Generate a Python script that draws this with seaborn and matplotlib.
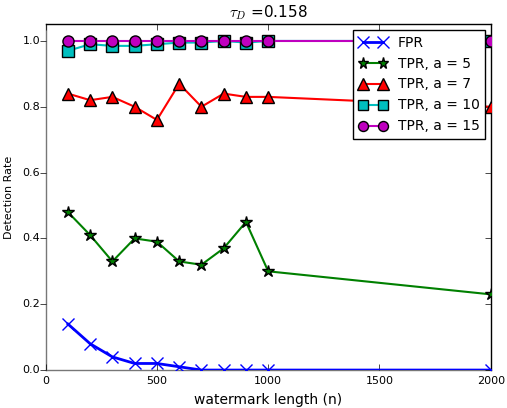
import matplotlib
matplotlib.use("Agg")
import matplotlib.pyplot as plt
import matplotlib.lines as mlines
import seaborn as sns
import pandas as pd

n = [100, 200, 300, 400, 500, 600, 700, 800, 900, 1000, 2000]
fpr = [0.14, 0.08, 0.04, 0.02, 0.02, 0.01, 0.0, 0.0, 0.0, 0.0, 0.0]
tpr5 = [0.48, 0.41, 0.33, 0.40, 0.39, 0.33, 0.32, 0.37, 0.45, 0.30, 0.23]
tpr7 = [0.84, 0.82, 0.83, 0.80, 0.76, 0.87, 0.80, 0.84, 0.83, 0.83, 0.80]
tpr10 = [0.97, 0.99, 0.985, 0.985, 0.99, 0.995, 0.995, 1.0, 0.995, 1.0, 1.0]
tpr15 = [1.0] * 11

series = [
    ("FPR", fpr, "blue", "x", 9, 2.0),
    ("TPR, a = 5", tpr5, "green", "*", 9, 1.5),
    ("TPR, a = 7", tpr7, "red", "^", 9, 1.5),
    ("TPR, a = 10", tpr10, "c", "s", 8, 1.5),
    ("TPR, a = 15", tpr15, "m", "o", 8, 1.5),
]

plt.style.use("classic")
fig, ax = plt.subplots(figsize=(5.07, 4.08), dpi=100)
fig.patch.set_facecolor("white")
for name, vals, col, mk, ms, lw in series:
    df = pd.DataFrame({"n": n, "v": vals})
    sns.lineplot(data=df, x="n", y="v", ax=ax, color=col, marker=mk,
                 markersize=ms, markeredgecolor=("blue" if mk == "x" else "black"),
                 markeredgewidth=1.0, linewidth=lw,
                 label=name, zorder=3)

ax.set_xlim(0, 2000)
ax.set_ylim(0, 1.05)
ax.set_xticks([0, 500, 1000, 1500, 2000])
ax.set_yticks([0.0, 0.2, 0.4, 0.6, 0.8, 1.0])
ax.tick_params(labelsize=8, direction="in")
for t in ax.yaxis.get_major_ticks():
    t.tick1line.set_marker(mlines.TICKLEFT)
for s in ("left", "bottom"):
    ax.spines[s].set_color("#777777")
ax.set_xlabel("watermark length (n)", fontsize=10)
ax.set_ylabel("Detection Rate", fontsize=8, labelpad=6)
ax.set_title(r"$\tau_D$ =0.158", fontsize=11)
leg = ax.legend(loc="upper right", fontsize=10, numpoints=2, borderaxespad=0.4,
                handlelength=2, fancybox=False, framealpha=1, markerscale=0.9)
fig.subplots_adjust(left=0.09, right=0.968, top=0.94, bottom=0.093)
fig.savefig("out.png", dpi=100, facecolor="white")
